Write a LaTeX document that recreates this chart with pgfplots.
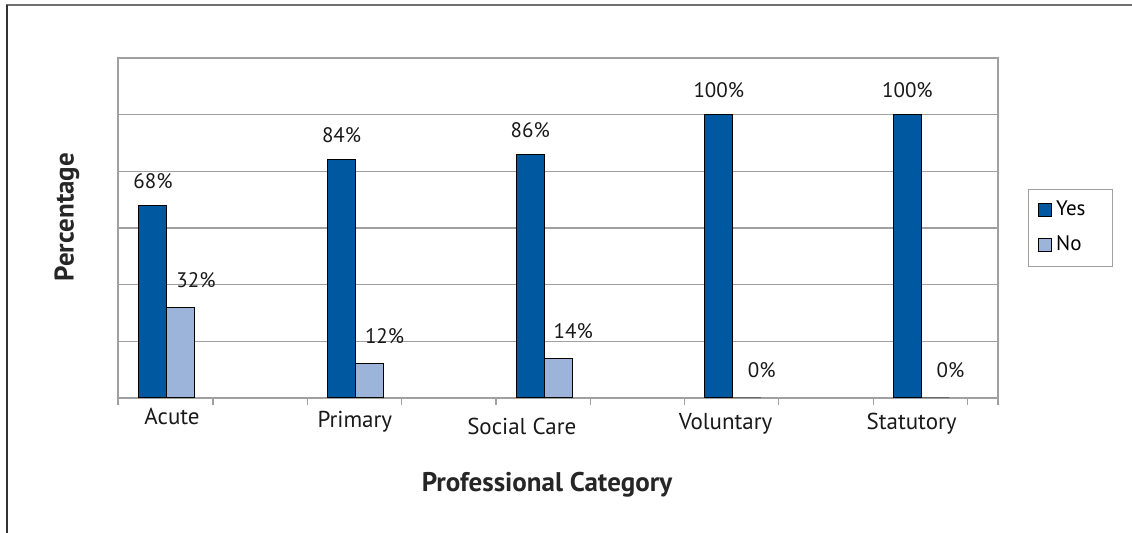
\documentclass[border=0pt]{standalone}
\usepackage{pgfplots}
\pgfplotsset{compat=1.18}
\usepackage{fontspec}
\setmainfont{PT Sans}
\definecolor{yesblue}{RGB}{0,88,160}
\definecolor{noblue}{RGB}{157,180,218}
\definecolor{framegray}{RGB}{160,160,160}

\begin{document}
\begin{tikzpicture}
\useasboundingbox (0,0) rectangle (566pt,-266.5pt);
% outer frame (top and left edges visible)
\draw[line width=1pt, black!56] (3pt,-2.75pt) -- (566pt,-2.75pt);
\draw[line width=1pt, black!80] (3.25pt,-2.5pt) -- (3.25pt,-266.5pt);
\begin{axis}[
  at={(59pt,-199pt)}, anchor=south west,
  width=440pt, height=170pt, scale only axis,
  ybar, bar width=14pt,
  xmin=-0.2597, xmax=4.406,
  ymin=0, ymax=120,
  axis line style={framegray, line width=0.6pt},
  xtick={-0.2597,0.244,0.744,1.244,1.744,2.244,2.744,3.244,3.744,4.244,4.406},
  xticklabels={},
  xtick pos=bottom, xtick align=outside,
  major tick length=3.5pt,
  xtick style={framegray, line width=0.6pt},
  extra x ticks={0.027,0.996,1.881,2.962,3.948},
  extra x tick labels={Acute,\raisebox{-1.5pt}{Primary},\raisebox{-5pt}{Social Care},\raisebox{-2.5pt}{Voluntary},\raisebox{-2.5pt}{Statutory}},
  extra x tick style={major tick length=0pt, tick style={draw=none},
    tick label style={anchor=base, yshift=-13.5pt}},
  ytick={20,40,60,80,100}, yticklabels={},
  ytick style={draw=none},
  ymajorgrids, grid style={framegray, line width=0.6pt},
  every tick label/.append style={font=\fontsize{11.5}{13}\selectfont, text=black!90},
  /pgf/number format/assume math mode=true,
  xlabel={Professional Category},
  ylabel={Percentage},
  label style={font=\fontsize{13.5}{15}\selectfont\bfseries, text=black!85},
  xlabel style={at={(axis description cs:0.4875,-0.256)}, anchor=center},
  ylabel style={at={(axis description cs:-0.058,0.532)}, anchor=center},
  legend style={at={(axis description cs:1.034,0.615)}, anchor=north west,
    draw=framegray, font=\fontsize{10.5}{12}\selectfont, inner xsep=5pt, inner ysep=4pt,
    row sep=4.5pt},
  legend cell align=left,
  legend image code/.code={\draw[#1, draw=black, line width=0.5pt] (0pt,-3.2pt) rectangle (6.4pt,3.2pt);},
  clip=false,
  nodes near coords={\pgfmathprintnumber{\pgfplotspointmeta}\%},
  every node near coord/.append style={font=\fontsize{10.5}{12}\selectfont, text=black!90, anchor=base},
]
\addplot[fill=yesblue, draw=black, line width=0.5pt, bar shift=-7pt,
  every node near coord/.append style={yshift=8.5pt}]
  coordinates {(0,68) (1,84) (2,86) (3,100) (4,100)};
\addplot[fill=noblue, draw=black, line width=0.5pt, bar shift=7pt,
  every node near coord/.append style={yshift=10pt, xshift=7.5pt}]
  coordinates {(0,32) (1,12) (2,14) (3,0) (4,0)};
\legend{\makebox[21pt][l]{Yes},No}
\end{axis}
\end{tikzpicture}
\end{document}
